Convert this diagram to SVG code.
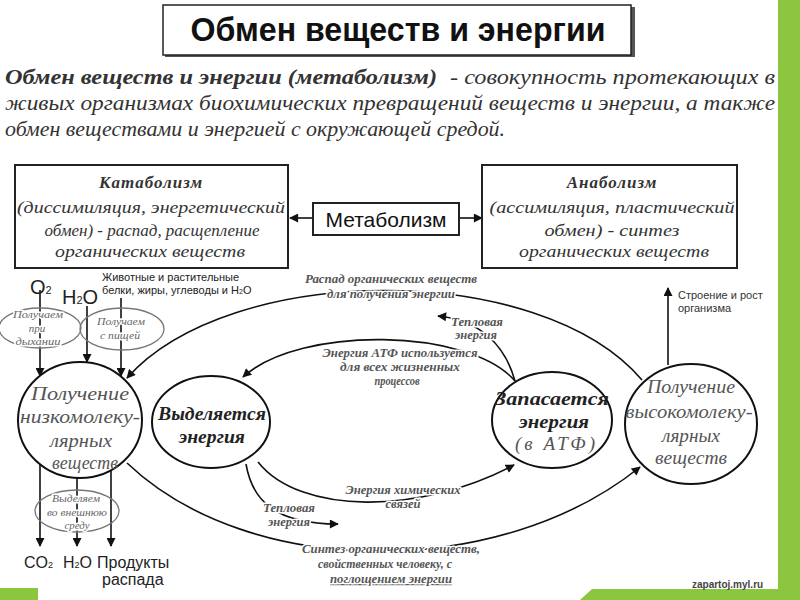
<svg xmlns="http://www.w3.org/2000/svg" width="800" height="600" viewBox="0 0 800 600">
<defs>
<marker id="ah" viewBox="0 0 10 10" refX="9" refY="5" markerWidth="10" markerHeight="9" markerUnits="userSpaceOnUse" orient="auto">
<path d="M0,0 L10,5 L0,10 z" fill="#111"/>
</marker>
<style>
.ser{font-family:"Liberation Serif","DejaVu Serif",serif;font-style:italic}
.sans{font-family:"Liberation Sans","DejaVu Sans",sans-serif}
.box{fill:#fff;stroke:#222;stroke-width:2}
.big{fill:#fff;stroke:#111;stroke-width:2}
.small{fill:none;stroke:#777;stroke-width:1.3}
.con{fill:none;stroke:#111;stroke-width:1.6}
.halo{paint-order:stroke;stroke:#fff;stroke-width:3;stroke-linejoin:round}
.bt{font-size:17px;fill:#333;text-anchor:middle}
.ct{font-size:19px;fill:#555;text-anchor:middle}
.cb{font-size:19px;fill:#222;text-anchor:middle;font-weight:bold}
.lbl{font-size:12px;fill:#555;text-anchor:middle;font-weight:bold}
.tiny{font-size:11px;fill:#666;text-anchor:middle}
.green{fill:#8cc63f}
</style>
</defs>
<rect width="800" height="600" fill="#fff"/>
<rect class="green" x="778" y="0" width="22" height="589"/>
<polygon class="green" points="592,589 800,589 800,600 580,600"/>
<rect class="green" x="0" y="588" width="38" height="12"/>

<g id="title">
<rect x="165" y="7" width="470" height="50" fill="#555"/>
<rect x="163" y="5" width="468" height="50" fill="#fff" stroke="#222" stroke-width="1.5"/>
<text class="sans" x="398" y="41" font-size="33" font-weight="bold" fill="#111" text-anchor="middle" textLength="415" lengthAdjust="spacingAndGlyphs">Обмен веществ и энергии</text>
</g>

<g id="definition" class="ser" font-size="20" fill="#333">
<text x="5" y="84" font-weight="bold" textLength="432" lengthAdjust="spacingAndGlyphs">Обмен веществ и энергии (метаболизм)</text>
<text x="450" y="84" textLength="325" lengthAdjust="spacingAndGlyphs">- совокупность протекающих в</text>
<text x="5" y="110" textLength="770" lengthAdjust="spacingAndGlyphs">живых организмах биохимических превращений веществ и энергии, а также</text>
<text x="5" y="136" textLength="500" lengthAdjust="spacingAndGlyphs">обмен веществами и энергией с окружающей средой.</text>
</g>

<g id="connectors">
<line class="con" x1="313" y1="218" x2="290" y2="218" marker-end="url(#ah)"/>
<line class="con" x1="459" y1="218" x2="482" y2="218" marker-end="url(#ah)"/>
<line class="con" x1="40" y1="290" x2="40" y2="376" marker-end="url(#ah)"/>
<line class="con" x1="87" y1="306" x2="87" y2="362" marker-end="url(#ah)"/>
<line class="con" x1="121" y1="298" x2="121" y2="376" marker-end="url(#ah)"/>
<path class="con" d="M642,380 C540,260 230,262 127,378" marker-end="url(#ah)"/>
<path class="con" d="M515,381 C470,328 300,325 243,377" marker-end="url(#ah)"/>
<path class="con" d="M515,381 C505,345 480,320 438,316" marker-end="url(#ah)"/>
<path class="con" d="M258,462 C300,515 420,515 514,465" marker-end="url(#ah)"/>
<path class="con" d="M246,464 C252,500 275,524 338,524" marker-end="url(#ah)"/>
<path class="con" d="M127,463 C250,580 500,580 640,467" marker-end="url(#ah)"/>
<line class="con" x1="668" y1="365" x2="668" y2="288" marker-end="url(#ah)"/>
<line class="con" x1="40" y1="464" x2="40" y2="546" marker-end="url(#ah)"/>
<line class="con" x1="77" y1="478" x2="77" y2="546" marker-end="url(#ah)"/>
<line class="con" x1="111" y1="470" x2="111" y2="546" marker-end="url(#ah)"/>
</g>

<g id="catabolism">
<rect class="box" x="15" y="165" width="273" height="103"/>
<text class="ser bt" x="151" y="188" font-weight="bold" letter-spacing="1">Катаболизм</text>
<text class="ser bt" x="151" y="213" textLength="268" lengthAdjust="spacingAndGlyphs">(диссимиляция, энергетический</text>
<text class="ser bt" x="152" y="236" textLength="215" lengthAdjust="spacingAndGlyphs">обмен) - распад, расщепление</text>
<text class="ser bt" x="150" y="257" textLength="190" lengthAdjust="spacingAndGlyphs">органических веществ</text>
</g>

<g id="metabolism">
<rect class="box" x="313" y="203" width="146" height="32"/>
<text class="sans" x="386" y="227" font-size="21" fill="#111" text-anchor="middle">Метаболизм</text>
</g>

<g id="anabolism">
<rect class="box" x="482" y="165" width="255" height="103"/>
<text class="ser bt" x="612" y="188" font-weight="bold" letter-spacing="1">Анаболизм</text>
<text class="ser bt" x="612" y="213" textLength="245" lengthAdjust="spacingAndGlyphs">(ассимиляция, пластический</text>
<text class="ser bt" x="612" y="236" textLength="135" lengthAdjust="spacingAndGlyphs">обмен) - синтез</text>
<text class="ser bt" x="614" y="257" textLength="190" lengthAdjust="spacingAndGlyphs">органических веществ</text>
</g>

<g id="inputs" class="sans" fill="#222">
<text x="30" y="294" font-size="20">O<tspan font-size="11">2</tspan></text>
<text x="62" y="304" font-size="20">H<tspan font-size="11">2</tspan>O</text>
<text x="102" y="281" font-size="11">Животные и растительные</text>
<text x="102" y="294" font-size="11">белки, жиры, углеводы и H<tspan font-size="7">2</tspan>O</text>
</g>

<g id="breathing">
<ellipse class="small" cx="40" cy="328" rx="41" ry="20"/>
<text class="ser tiny halo" x="38" y="318" textLength="50" lengthAdjust="spacingAndGlyphs">Получаем</text>
<text class="ser tiny halo" x="37" y="332">при</text>
<text class="ser tiny halo" x="38" y="345" textLength="45" lengthAdjust="spacingAndGlyphs">дыхании</text>
</g>

<g id="food">
<ellipse class="small" cx="122" cy="329" rx="42" ry="21"/>
<text class="ser tiny halo" x="121" y="325" textLength="48" lengthAdjust="spacingAndGlyphs">Получаем</text>
<text class="ser tiny halo" x="120" y="339" textLength="40" lengthAdjust="spacingAndGlyphs">с пищей</text>
</g>

<g id="low-molecular">
<ellipse class="big" cx="80" cy="420" rx="62" ry="58"/>
<text class="ser ct" x="80" y="400" textLength="98" lengthAdjust="spacingAndGlyphs">Получение</text>
<text class="ser ct" x="80" y="423" textLength="120" lengthAdjust="spacingAndGlyphs">низкомолеку-</text>
<text class="ser ct" x="81" y="447" textLength="62" lengthAdjust="spacingAndGlyphs">лярных</text>
<text class="ser ct" x="85" y="469" textLength="66" lengthAdjust="spacingAndGlyphs">веществ</text>
</g>

<g id="release">
<ellipse class="big" cx="211" cy="422" rx="59" ry="46"/>
<text class="ser cb" x="212" y="420" textLength="108" lengthAdjust="spacingAndGlyphs">Выделяется</text>
<text class="ser cb" x="212" y="443" textLength="66" lengthAdjust="spacingAndGlyphs">энергия</text>
</g>

<g id="store">
<ellipse class="big" cx="552" cy="420" rx="60" ry="48"/>
<text class="ser cb" x="552" y="405" textLength="114" lengthAdjust="spacingAndGlyphs">Запасается</text>
<text class="ser cb" x="554" y="428" textLength="70" lengthAdjust="spacingAndGlyphs">энергия</text>
<text class="ser ct" x="555" y="450" fill="#333" textLength="80" lengthAdjust="spacing">(в АТФ)</text>
</g>

<g id="high-molecular">
<ellipse class="big" cx="691" cy="424" rx="66" ry="60"/>
<text class="ser ct" x="691" y="393" textLength="88" lengthAdjust="spacingAndGlyphs">Получение</text>
<text class="ser ct" x="689" y="418" textLength="127" lengthAdjust="spacingAndGlyphs">высокомолеку-</text>
<text class="ser ct" x="691" y="442" textLength="58" lengthAdjust="spacingAndGlyphs">лярных</text>
<text class="ser ct" x="691" y="464" textLength="72" lengthAdjust="spacingAndGlyphs">веществ</text>
</g>

<g id="excrete">
<ellipse class="small" cx="77" cy="511" rx="42" ry="21"/>
<text class="ser tiny halo" x="76" y="502" textLength="48" lengthAdjust="spacingAndGlyphs">Выделяем</text>
<text class="ser tiny halo" x="77" y="516" textLength="60" lengthAdjust="spacingAndGlyphs">во внешнюю</text>
<text class="ser tiny halo" x="77" y="529" textLength="25" lengthAdjust="spacingAndGlyphs">среду</text>
</g>

<g id="outputs" class="sans" fill="#222" font-size="16">
<text x="24" y="568">CO<tspan font-size="9">2</tspan></text>
<text x="63" y="568">H<tspan font-size="9">2</tspan>O</text>
<text x="97" y="568">Продукты</text>
<text x="102" y="585">распада</text>
</g>

<g id="labels" class="ser">
<text class="lbl halo" x="391" y="283" textLength="172" lengthAdjust="spacingAndGlyphs">Распад органических веществ</text>
<text class="lbl halo" x="391" y="298" textLength="128" lengthAdjust="spacingAndGlyphs">для получения энергии</text>
<text class="lbl halo" x="477" y="326" textLength="52" lengthAdjust="spacingAndGlyphs">Тепловая</text>
<text class="lbl halo" x="476" y="339" textLength="42" lengthAdjust="spacingAndGlyphs">энергия</text>
<text class="lbl halo" x="400" y="357" textLength="155" lengthAdjust="spacingAndGlyphs">Энергия АТФ используется</text>
<text class="lbl halo" x="400" y="371" textLength="120" lengthAdjust="spacingAndGlyphs">для всех жизненных</text>
<text class="lbl halo" x="397" y="385" textLength="45" lengthAdjust="spacingAndGlyphs">процессов</text>
<text class="lbl halo" x="403" y="494" textLength="115" lengthAdjust="spacingAndGlyphs">Энергия химических</text>
<text class="lbl halo" x="403" y="508" textLength="35" lengthAdjust="spacingAndGlyphs">связей</text>
<text class="lbl halo" x="289" y="512" textLength="52" lengthAdjust="spacingAndGlyphs">Тепловая</text>
<text class="lbl halo" x="289" y="526" textLength="42" lengthAdjust="spacingAndGlyphs">энергия</text>
<text class="lbl halo" x="391" y="553" textLength="178" lengthAdjust="spacingAndGlyphs">Синтез органических веществ,</text>
<text class="lbl halo" x="385" y="568" textLength="134" lengthAdjust="spacingAndGlyphs">свойственных человеку, с</text>
<text class="lbl halo" x="391" y="583" textLength="122" lengthAdjust="spacingAndGlyphs" text-decoration="underline" fill="#333">поглощением энергии</text>
</g>

<g id="growth" class="sans" fill="#333" font-size="11">
<text x="678" y="299">Строение и рост</text>
<text x="678" y="312">организма</text>
</g>

<text class="sans" x="692" y="588" font-size="10" font-weight="bold" fill="#444">zapartoj.myl.ru</text>
</svg>
